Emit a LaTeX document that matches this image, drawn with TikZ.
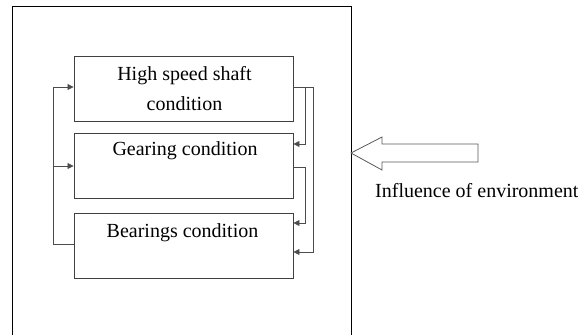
\documentclass[tikz,border=0pt]{standalone}
\usepackage{fontspec}
\setmainfont{Liberation Serif}
\usetikzlibrary{arrows.meta}
\begin{document}
\begin{tikzpicture}[x=1pt,y=-1pt,
  box/.style={draw=black!75,line width=0.9pt,minimum width=219pt,minimum height=65pt,inner sep=0pt},
  lbl/.style={font=\fontsize{20}{30}\selectfont,align=center,anchor=base,inner sep=0pt},
  conn/.style={draw=black!70,line width=0.8pt},
  arr/.style={conn,-{Triangle[length=6pt,width=6pt]}}]
\useasboundingbox (0,0) rectangle (578,335);
% outer frame (open at bottom)
\draw[line width=1pt] (12,335) -- (12,6.5) -- (351.5,6.5) -- (351.5,335);
% boxes
\node[box] (b1) at (183.5,89) {};
\node[box] (b2) at (183.5,165.5) {};
\node[box] (b3) at (183.5,246) {};
\node[lbl] (t1) at (184.5,110) {High speed shaft\\condition};
\node[lbl] (t2) at (185,155) {Gearing condition};
\node[lbl] (t3) at (182.5,237) {Bearings condition};
% left feedback
\coordinate (lc) at (53,166);
\draw[arr] (b3.west |- 0,244) -| (53,87) -- (b1.west |- 0,87);
\draw[arr] (lc) -- (b2.west |- lc);
% right connections
\coordinate (r1) at (305,87);
\draw[conn] (b1.east |- r1) -- (313,87);
\draw[arr] (313,87) |- (b3.east |- 0,252);
\draw[arr] (r1) |- (b2.east |- 0,144);
\draw[arr] (b2.east |- 0,167) -| (305,223) -- (b3.east |- 0,223);
% environment arrow
\draw[draw=black!65,line width=0.8pt,fill=white] (351,153) -- (382,137) -- (382,144) -- (478,144) -- (478,162) -- (382,162) -- (382,170) -- cycle;
\node[font=\fontsize{20}{24}\selectfont,anchor=base west,inner sep=0pt] (env) at (375,197) {Influence of environment};
\end{tikzpicture}
\end{document}
